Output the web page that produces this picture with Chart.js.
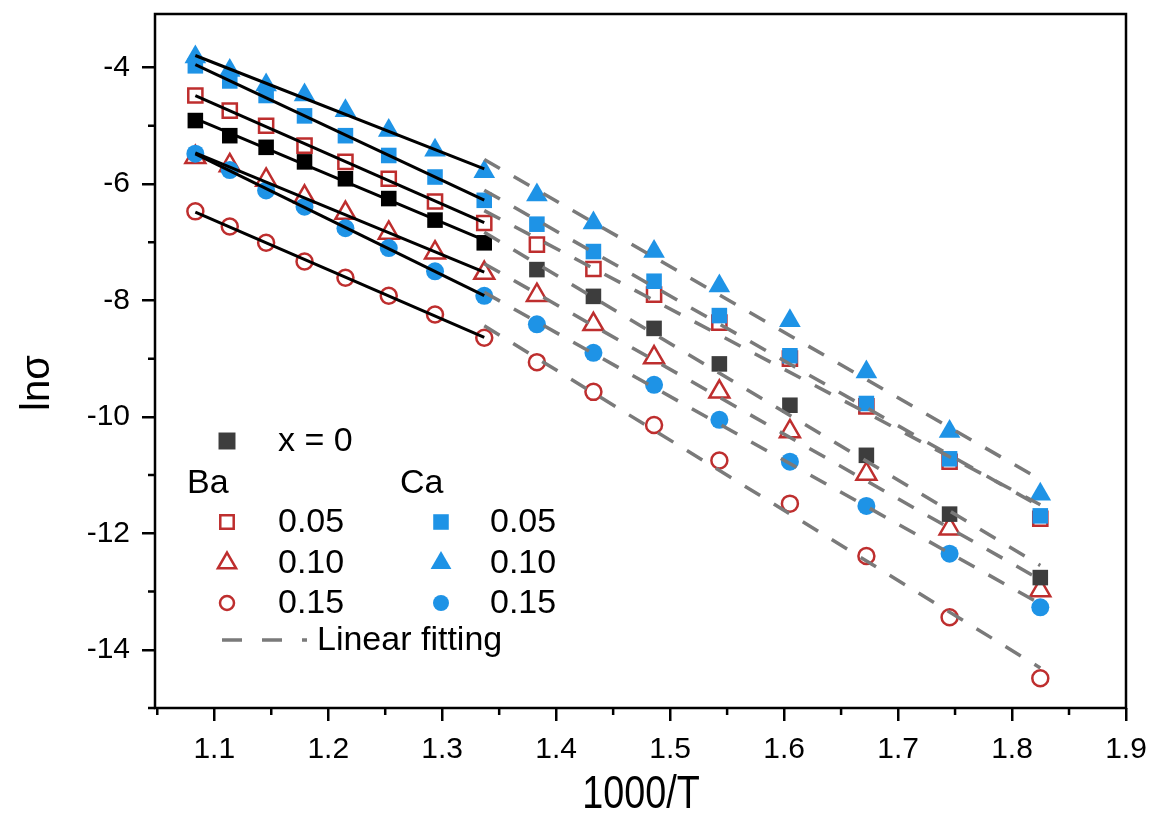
<!DOCTYPE html>
<html><head><meta charset="utf-8">
<script src="https://cdn.jsdelivr.net/npm/chart.js@4.4.0/dist/chart.umd.min.js"></script>
<style>html,body{margin:0;padding:0;background:#fff;}#wrap{width:1156px;height:815px;}</style>
</head><body><div id="wrap"><canvas id="c" width="1156" height="815"></canvas></div>
<script>
// ---- data ----
const invT = [1.0834, 1.1136, 1.1455, 1.1792, 1.2151, 1.2531, 1.2937, 1.3369, 1.3831, 1.4327, 1.4859, 1.5432, 1.6051, 1.6722, 1.7452, 1.8248];
const x0   = [-4.91, -5.17, -5.37, -5.62, -5.91, -6.25, -6.62, -7.01, -7.47, -7.93, -8.48, -9.09, -9.80, -10.66, -11.67, -12.76];
const ba05 = [-4.48, -4.74, -5.00, -5.34, -5.62, -5.91, -6.30, -6.67, -7.04, -7.46, -7.90, -8.38, -9.00, -9.82, -10.77, -11.75];
const ba10 = [-5.54, -5.68, -5.93, -6.22, -6.50, -6.84, -7.18, -7.53, -7.91, -8.41, -8.98, -9.57, -10.25, -10.98, -11.92, -12.98];
const ba15 = [-6.47, -6.73, -7.01, -7.33, -7.61, -7.92, -8.24, -8.64, -9.06, -9.57, -10.14, -10.75, -11.49, -12.39, -13.44, -14.49];
const ca05 = [-3.97, -4.23, -4.48, -4.83, -5.17, -5.51, -5.88, -6.28, -6.69, -7.16, -7.67, -8.26, -8.95, -9.77, -10.72, -11.70];
const ca10 = [-3.82, -4.05, -4.30, -4.47, -4.74, -5.08, -5.42, -5.79, -6.19, -6.67, -7.16, -7.75, -8.35, -9.23, -10.25, -11.33];
const ca15 = [-5.48, -5.76, -6.11, -6.39, -6.76, -7.10, -7.50, -7.92, -8.41, -8.90, -9.45, -10.05, -10.77, -11.53, -12.35, -13.27];
const highRange = [0, 7];   // solid black fits
const lowRange  = [7, 15];  // dashed grey fits
const xTickValues = [1.1, 1.2, 1.3, 1.4, 1.5, 1.6, 1.7, 1.8, 1.9];
const xTickLabels = ['1.1', '1.2', '1.3', '1.4', '1.5', '1.6', '1.7', '1.8', '1.9'];
const xMinorValues = [1.05, 1.15, 1.25, 1.35, 1.45, 1.55, 1.65, 1.75, 1.85];
const yTickValues = [-14, -12, -10, -8, -6, -4];
const yTickLabels = ['-14', '-12', '-10', '-8', '-6', '-4'];
const yMinorValues = [-15, -13, -11, -9, -7, -5];
const xTitle = '1000/T';
const yTitle = 'lnσ';

// ---- styles ----
const RED = '#BE2E2E', BLUE = '#1E93E6', DARK = '#3d3d3d', GREY = '#7a7a7a';
const FONT = "'Liberation Sans', Arial, sans-serif";

function pts(vals) { return invT.map((x, i) => ({ x: x, y: vals[i] })); }
function linFit(vals, r) {
  let n = 0, sx = 0, sy = 0, sxx = 0, sxy = 0;
  for (let i = r[0]; i <= r[1]; i++) { const x = invT[i], y = vals[i]; n++; sx += x; sy += y; sxx += x * x; sxy += x * y; }
  const m = (n * sxy - sx * sy) / (n * sxx - sx * sx), b = (sy - m * sx) / n;
  return [{ x: invT[r[0]], y: m * invT[r[0]] + b }, { x: invT[r[1]], y: m * invT[r[1]] + b }];
}

const series = [
  { label: 'x = 0',   vals: x0,   style: 'rect',     radius: 11, fill: (c) => (c.parsed && c.parsed.x < 1.35 ? '#000' : DARK), stroke: 'rgba(0,0,0,0)', bw: 0, order: 3 },
  { label: 'Ba 0.05', vals: ba05, style: 'rect',     radius: 10, fill: 'rgba(0,0,0,0)', stroke: RED, bw: 2.5, order: 4 },
  { label: 'Ba 0.10', vals: ba10, style: 'triangle', radius: 11.5, fill: 'rgba(0,0,0,0)', stroke: RED, bw: 2.5, order: 4 },
  { label: 'Ba 0.15', vals: ba15, style: 'circle',   radius: 8,  fill: 'rgba(0,0,0,0)', stroke: RED, bw: 2.5, order: 4 },
  { label: 'Ca 0.05', vals: ca05, style: 'rect',     radius: 11, fill: BLUE, stroke: 'rgba(0,0,0,0)', bw: 0, order: 2 },
  { label: 'Ca 0.10', vals: ca10, style: 'triangle', radius: 12.5, fill: BLUE, stroke: 'rgba(0,0,0,0)', bw: 0, order: 2 },
  { label: 'Ca 0.15', vals: ca15, style: 'circle',   radius: 9,  fill: BLUE, stroke: 'rgba(0,0,0,0)', bw: 0, order: 2 }
];

const datasets = [];
series.forEach(s => {
  datasets.push({
    label: s.label, data: pts(s.vals), showLine: false,
    pointStyle: s.style, pointRadius: s.radius, pointBackgroundColor: s.fill,
    pointBorderColor: s.stroke, pointBorderWidth: s.bw, order: s.order
  });
});
series.forEach(s => {
  datasets.push({ label: s.label + ' fit high', data: linFit(s.vals, highRange), showLine: true,
    borderColor: '#000', borderWidth: 3, pointRadius: 0, order: 0 });
  datasets.push({ label: s.label + ' fit low', data: linFit(s.vals, lowRange), showLine: true,
    borderColor: GREY, borderWidth: 3.5, borderDash: [18, 16], pointRadius: 0, order: 1 });
});

const decor = {
  id: 'decor',
  afterDraw(chart) {
    const ctx = chart.ctx, a = chart.chartArea, xs = chart.scales.x, ys = chart.scales.y;
    ctx.save();
    // frame
    ctx.strokeStyle = '#000'; ctx.lineWidth = 2.5;
    ctx.strokeRect(a.left, a.top, a.right - a.left, a.bottom - a.top);
    // minor ticks
    ctx.beginPath();
    xMinorValues.forEach(v => { const p = xs.getPixelForValue(v); ctx.moveTo(p, a.bottom); ctx.lineTo(p, a.bottom + 7); });
    yMinorValues.forEach(v => { const p = ys.getPixelForValue(v); ctx.moveTo(a.left, p); ctx.lineTo(a.left - 7, p); });
    ctx.stroke();
    // axis titles
    ctx.fillStyle = '#000'; ctx.textAlign = 'center'; ctx.textBaseline = 'middle';
    ctx.save(); ctx.translate(641, 795); ctx.scale(0.82, 1);
    ctx.font = '46px ' + FONT; ctx.fillText(xTitle, 0, 0); ctx.restore();
    ctx.save(); ctx.translate(38, 383); ctx.rotate(-Math.PI / 2);
    ctx.font = '40px ' + FONT; ctx.fillText(yTitle, 0, 0); ctx.restore();
    // legend (placed in the lower-left of the plot)
    const mk = (style, r, fill, stroke, bw, x, y) => {
      ctx.fillStyle = fill; ctx.strokeStyle = stroke; ctx.lineWidth = bw;
      Chart.helpers.drawPoint(ctx, { pointStyle: style, radius: r, borderWidth: bw, rotation: 0 }, x, y);
    };
    ctx.textAlign = 'left'; ctx.textBaseline = 'middle';
    ctx.font = '34px ' + FONT;
    mk('rect', 12, DARK, 'rgba(0,0,0,0)', 0, 227, 441);
    ctx.fillStyle = '#000'; ctx.fillText(series[0].label, 278, 442);
    ctx.fillText('Ba', 187, 484);
    ctx.fillText('Ca', 400, 484);
    const rowsY = [522, 563, 603];
    [1, 2, 3].forEach((k, j) => {
      const s = series[k];
      mk(s.style, s.style === 'circle' ? 7 : (s.style === 'rect' ? 9.5 : 10.5), 'rgba(0,0,0,0)', RED, 2.5, 227, rowsY[j]);
      ctx.fillStyle = '#000'; ctx.fillText(s.label.split(' ')[1], 278, rowsY[j] + 1);
    });
    [4, 5, 6].forEach((k, j) => {
      const s = series[k];
      mk(s.style, s.style === 'circle' ? 8 : (s.style === 'rect' ? 11 : 12), BLUE, 'rgba(0,0,0,0)', 0, 441, rowsY[j]);
      ctx.fillStyle = '#000'; ctx.fillText(s.label.split(' ')[1], 490, rowsY[j] + 1);
    });
    ctx.strokeStyle = GREY; ctx.lineWidth = 3.5; ctx.setLineDash([20, 20]);
    ctx.beginPath(); ctx.moveTo(222, 640); ctx.lineTo(307, 640); ctx.stroke();
    ctx.setLineDash([]);
    ctx.fillStyle = '#000'; ctx.fillText('Linear fitting', 317, 641);
    ctx.restore();
  }
};

new Chart(document.getElementById('c'), {
  type: 'scatter',
  data: { datasets: datasets },
  options: {
    responsive: false, animation: false, devicePixelRatio: 1, events: [],
    layout: { padding: { left: 0, top: 8, right: 30, bottom: 0 } },
    plugins: { legend: { display: false }, tooltip: { enabled: false } },
    scales: {
      x: {
        type: 'linear', min: 1.048, max: 1.9,
        afterBuildTicks: s => { s.ticks = xTickValues.map(v => ({ value: v })); },
        afterFit: s => { s.height = 107; s.paddingLeft = 0; s.paddingRight = 0; },
        border: { display: false },
        grid: { display: true, drawOnChartArea: false, drawTicks: true, tickLength: 13, color: '#000', lineWidth: 2.5 },
        ticks: { autoSkip: false, maxRotation: 0, padding: 11, color: '#000', font: { family: FONT, size: 30 },
          callback: (v, i) => xTickLabels[i] }
      },
      y: {
        type: 'linear', min: -15, max: -3.08,
        afterBuildTicks: s => { s.ticks = yTickValues.map(v => ({ value: v })); },
        afterFit: s => { s.width = 155; s.paddingTop = 0; s.paddingBottom = 0; },
        border: { display: false },
        grid: { display: true, drawOnChartArea: false, drawTicks: true, tickLength: 13, color: '#000', lineWidth: 2.5 },
        ticks: { autoSkip: false, padding: 12, color: '#000', font: { family: FONT, size: 30 },
          callback: (v, i) => yTickLabels[i] }
      }
    }
  },
  plugins: [decor]
});
</script></body></html>
